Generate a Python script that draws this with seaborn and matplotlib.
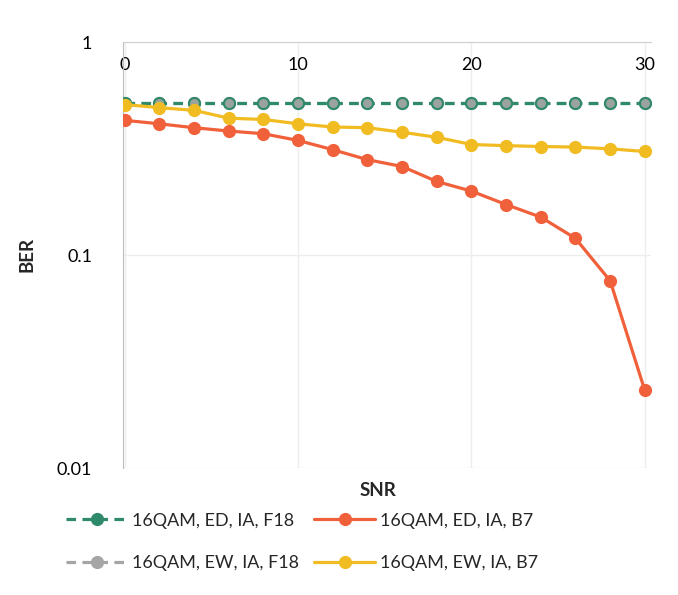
import matplotlib
matplotlib.use("Agg")
import matplotlib.pyplot as plt
import seaborn as sns
import pandas as pd

snr = [0, 2, 4, 6, 8, 10, 12, 14, 16, 18, 20, 22, 24, 26, 28, 30]
ber_ed_f18 = [0.52] * 16
ber_ew_f18 = [0.52] * 16
ber_ed_b7 = [0.43, 0.414, 0.397, 0.383, 0.372, 0.346, 0.313, 0.281, 0.261, 0.222,
             0.200, 0.173, 0.151, 0.120, 0.0759, 0.0232]
ber_ew_b7 = [0.51, 0.493, 0.479, 0.44, 0.434, 0.414, 0.40, 0.397, 0.378, 0.358,
             0.331, 0.327, 0.324, 0.322, 0.316, 0.307]
names = ["16QAM, ED, IA, F18", "16QAM, ED, IA, B7", "16QAM, EW, IA, F18", "16QAM, EW, IA, B7"]
colors = ["#2E8A6A", "#F0603A", "#A5A5A5", "#F0BC22"]
dashed = [True, False, True, False]
series = [ber_ed_f18, ber_ed_b7, ber_ew_f18, ber_ew_b7]
zorders = [3, 4, 2, 5]

sns.set_style("white")
plt.rcParams['font.family'] = ['Lato', 'DejaVu Sans']

fig = plt.figure(figsize=(6.78, 5.95), dpi=100)
ax = fig.add_axes([0.181, 0.213, 0.779, 0.716])

handles = {}
for i in [2, 0, 1, 3]:
    df = pd.DataFrame({"SNR": snr, "BER": series[i]})
    sns.lineplot(data=df, x="SNR", y="BER", ax=ax, color=colors[i], marker="o",
                 markersize=9.5, markeredgewidth=0, linewidth=2.3, zorder=zorders[i])
    ln = ax.lines[-1]
    if dashed[i]:
        ln.set_linestyle((0, (3, 2)))
    handles[i] = ln

# gray markers sit on top of the green series
df_gray = pd.DataFrame({"SNR": snr, "BER": ber_ew_f18})
sns.scatterplot(data=df_gray, x="SNR", y="BER", ax=ax, color="#9BA39F", s=42,
                linewidth=0, zorder=3.5, legend=False)

ax.set_yscale("log")
ax.set_ylim(0.01, 1)
ax.set_xlim(-0.115, 30.35)
ax.set_xticks([0, 10, 20, 30])
ax.set_yticks([0.01, 0.1, 1])
ax.set_yticklabels(["0.01", "0.1", "1"])
ax.minorticks_off()
ax.tick_params(axis='x', top=True, labeltop=True, bottom=False, labelbottom=False,
               length=0, pad=-22, labelsize=13, colors="black")
ax.tick_params(axis='y', length=0, pad=22, labelsize=13, colors="black")
ax.grid(True, color="#EDEDED", linewidth=1)
for s in ["right", "bottom"]:
    ax.spines[s].set_visible(False)
ax.spines["top"].set_color("#D0D0D0")
ax.spines["left"].set_color("#BDBDBD")
ax.set_xlabel("")
ax.set_ylabel("")

fig.text(0.558, 0.175, "SNR", ha="center", va="center", fontsize=13.5, fontweight="bold")
fig.text(0.04, 0.572, "BER", ha="center", va="center", rotation=90, fontsize=13.5, fontweight="bold")

order = [0, 2, 1, 3]
leg = fig.legend([handles[i] for i in order], [names[i] for i in order],
                 loc="center", bbox_to_anchor=(0.446, 0.089), ncol=2, frameon=False,
                 fontsize=12.9, handlelength=3.37, columnspacing=0.85, handletextpad=0.3,
                 labelspacing=1.5)

fig.savefig("out.png", dpi=100)
